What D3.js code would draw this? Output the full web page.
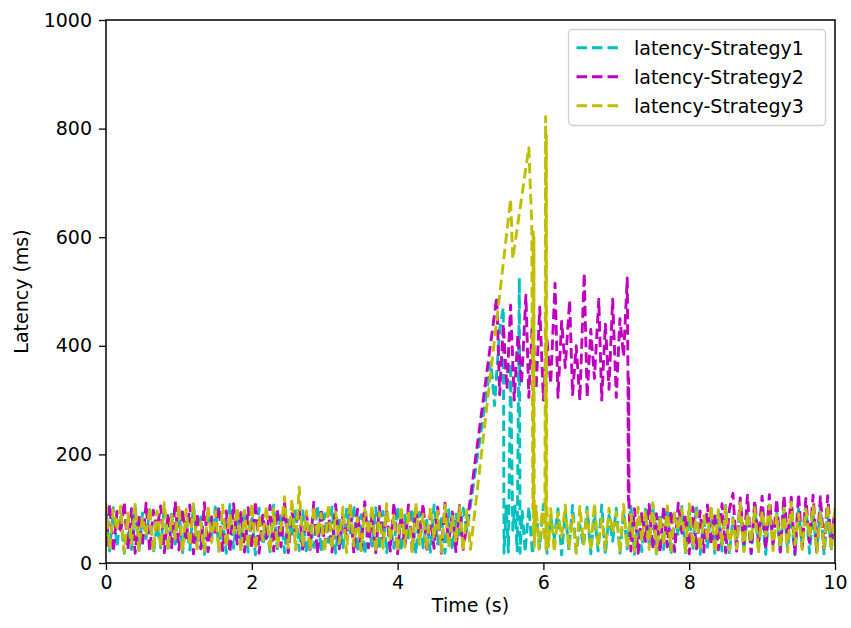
<!DOCTYPE html>
<html>
<head>
<meta charset="utf-8">
<script src="https://cdn.jsdelivr.net/npm/d3@7"></script>
<style>
	body { margin: 0; background: #fff; }
	text { font-family: "DejaVu Sans", sans-serif; }
</style>
</head>
<body>
<script>

// sample times (s), shared by the steady parts of every run
var baseTimes = [
	0,0.05,0.1,0.15,0.2,0.25,0.3,0.35,0.4,0.45,0.5,0.55,0.6,0.65,0.7,0.75,0.8,0.85,0.9,0.95,
	1,1.05,1.1,1.15,1.2,1.25,1.3,1.35,1.4,1.45,1.5,1.55,1.6,1.65,1.7,1.75,1.8,1.85,1.9,1.95,
	2,2.05,2.1,2.15,2.2,2.25,2.3,2.35,2.4,2.45,2.5,2.55,2.6,2.65,2.7,2.75,2.8,2.85,2.9,2.95,
	3,3.05,3.1,3.15,3.2,3.25,3.3,3.35,3.4,3.45,3.5,3.55,3.6,3.65,3.7,3.75,3.8,3.85,3.9,3.95,
	4,4.05,4.1,4.15,4.2,4.25,4.3,4.35,4.4,4.45,4.5,4.55,4.6,4.65,4.7,4.75,4.8,4.85,4.9,4.95,
	5,5.05,5.1,5.15,5.2,5.25,5.3,5.35,5.4,5.45,5.5,5.55,5.6,5.65,5.7,5.75,5.8,5.85,5.9,5.95,
	6,6.05,6.1,6.15,6.2,6.25,6.3,6.35,6.4,6.45,6.5,6.55,6.6,6.65,6.7,6.75,6.8,6.85,6.9,6.95,
	7,7.05,7.1,7.15,7.2,7.25,7.3,7.35,7.4,7.45,7.5,7.55,7.6,7.65,7.7,7.75,7.8,7.85,7.9,7.95,
	8,8.05,8.1,8.15,8.2,8.25,8.3,8.35,8.4,8.45,8.5,8.55,8.6,8.65,8.7,8.75,8.8,8.85,8.9,8.95,
	9,9.05,9.1,9.15,9.2,9.25,9.3,9.35,9.4,9.45,9.5,9.55,9.6,9.65,9.7,9.75,9.8,9.85,9.9,9.95,
	10
];

// Strategy1 latency (ms)
var s1Before = [
	95,22,102,30,88,18,60,25,105,20,92,45,98,17,70,28,104,21,90,35,
	100,19,75,24,106,30,85,16,97,50,103,22,80,18,108,27,93,40,99,20,
	87,15,101,33,65,21,107,26,94,19,82,48,100,23,96,17,72,29,105,20,
	91,38,103,18,84,25,99,55,106,21,89,16,76,31,102,24,95,19,68,27,
	104,22,88,42,100,17,93,28,79,20,107,35,86,18,98,24,90,52,101,60
];
var s1SpikeTime    = [5.28,5.33,5.40,5.45,5.46,5.49,5.52,5.55,5.58,5.61,5.64,5.67,5.68,5.71];
var s1SpikeLatency = [370, 290, 430, 470, 18,  105, 20,  368, 60,  105, 22,  525, 18,  95];
var s1AfterStart = 115;
var s1After = [
	20,104,16,90,28,108,18,85,45,100,15,96,24,106,19,70,30,103,17,92,
	22,107,15,88,40,101,18,95,26,105,16,80,21,99,35,108,17,91,25,102,
	15,86,50,104,19,97,23,107,16,78,29,100,18,94,22,106,15,83,38,103,
	20,96,17,109,27,89,16,101,44,95,19,105,24,87,15,99,31,107,18,92,
	21,104,17,90,26,100
];

// Strategy2 latency (ms)
var s2Before = [
	30,108,20,95,55,112,25,100,18,88,32,110,22,97,62,105,19,92,28,113,
	24,99,40,107,17,90,26,111,21,85,50,104,23,96,19,109,35,93,20,102,
	27,114,18,88,45,106,22,98,30,110,19,94,58,103,21,91,25,112,17,100,
	33,96,20,108,26,87,48,105,18,99,23,113,28,90,19,104,42,95,22,111,
	17,92,30,107,24,98,52,109,20,89,27,103,18,110,36,94,21,106,25,70
];
var s2SpikeTime = [
	5.36,5.40,5.45,5.50,5.55,5.60,5.65,5.70,5.76,5.80,5.85,5.90,5.95,6.00,6.05,6.10,
	6.16,6.20,6.25,6.30,6.36,6.40,6.45,6.50,6.56,6.60,6.65,6.70,6.76,6.80,6.85,6.90,
	6.95,7.00,7.05,7.10,7.15,7.16,7.165,7.17,7.175
];
var s2SpikeLatency = [
	490,310,440,320,475,300,420,330,493,305,450,320,471,300,410,330,
	515,305,445,360,484,310,400,300,534,305,430,340,486,300,440,320,
	486,305,450,380,525,350,115,340,105
];
var s2AfterStart = 144;
var s2After = [
	22,100,18,94,40,108,25,91,19,105,30,97,21,110,55,89,17,103,26,96,
	20,107,33,92,24,109,19,98,
	128,22,120,35,125,18,115,40,123,24,126,30,118,20,124,45,121,17,127,28,
	119,38,125,21,122,26,124,33,100
];

// Strategy3 latency (ms)
var s3Before = [
	110,25,98,60,105,20,92,35,108,24,85,50,103,21,96,28,111,23,88,45,
	106,20,99,32,109,26,75,22,104,38,95,19,107,29,90,55,102,21,97,27,
	110,24,86,42,105,20,100,30,65,122,28,118,24,140,30,96,22,104,48,91,
	20,108,26,94,36,103,19,110,31,84,23,99,52,106,21,93,27,109,40,88,
	22,105,29,97,18,111,34,90,24,102,45,95,20,107,28,86,38,104,22,98,25
];
var s3SpikeTime    = [5.55,5.58,5.80,5.84,5.855,5.86,5.865,5.87,5.875,5.90,5.94,5.98,6.02,6.03,6.035,6.04,6.045,6.07];
var s3SpikeLatency = [670, 560, 765, 625, 100,  610, 50,   600, 30,   105, 25,  95,  40,  822, 25,   790, 110,  30];
var s3AfterStart = 122;
var s3After = [
	100,20,93,48,107,26,88,18,104,35,96,22,110,30,82,24,101,55,94,19,
	108,27,90,21,103,40,97,25,111,18,86,33,105,23,92,60,100,20,109,29,
	95,22,87,45,106,19,98,31,104,24,80,26,110,21,93,38,102,18,96,50,
	107,23,89,28,101,20,112,34,91,25,99,47,105,19,94,27,108,22,100
];

var seriesNames = ["latency-Strategy1", "latency-Strategy2", "latency-Strategy3"];
var seriesColors = ["#00bfbf", "#bf00bf", "#bfbf00"];
var xTicks = [0, 2, 4, 6, 8, 10];
var yTicks = [0, 200, 400, 600, 800, 1000];

function buildSeries(before, spikeTime, spikeLatency, afterStart, after) {
	var pts = [];
	before.forEach(function(v, i) { pts.push([baseTimes[i], v]); });
	spikeTime.forEach(function(t, i) { pts.push([t, spikeLatency[i]]); });
	after.forEach(function(v, i) { pts.push([baseTimes[afterStart + i], v]); });
	return pts;
}

var dataset = [
	buildSeries(s1Before, s1SpikeTime, s1SpikeLatency, s1AfterStart, s1After),
	buildSeries(s2Before, s2SpikeTime, s2SpikeLatency, s2AfterStart, s2After),
	buildSeries(s3Before, s3SpikeTime, s3SpikeLatency, s3AfterStart, s3After)
];

makeChart();

function makeChart() {

	var left = 106, right = 835, top = 20, bottom = 563;
	var fontSize = "19px";
	var dash = "10.5,5";

	var svg = d3.select("body")
		.append("svg")
		.attr("width", 851)
		.attr("height", 628);

	var xScale = d3.scaleLinear().domain([0, 10]).range([left, right]);
	var yScale = d3.scaleLinear().domain([0, 1000]).range([bottom, top]);

	svg.append("clipPath")
		.attr("id", "plotClip")
		.append("rect")
		.attr("x", left).attr("y", top)
		.attr("width", right - left).attr("height", bottom - top);

	var line = d3.line()
		.x(function(d) { return xScale(d[0]); })
		.y(function(d) { return yScale(d[1]); });

	// draw the three runs, Strategy3 ends up on top
	svg.append("g")
		.attr("clip-path", "url(#plotClip)")
		.selectAll("path")
		.data(dataset)
		.enter()
		.append("path")
		.attr("d", line)
		.attr("fill", "none")
		.attr("stroke", function(d, i) { return seriesColors[i]; })
		.attr("stroke-width", 2.9)
		.attr("stroke-dasharray", dash)
		.attr("stroke-linejoin", "round");

	// axes
	var xAxis = svg.append("g")
		.attr("transform", "translate(0," + bottom + ")")
		.call(d3.axisBottom(xScale).tickValues(xTicks).tickFormat(d3.format("d")).tickSize(7).tickPadding(6));

	var yAxis = svg.append("g")
		.attr("transform", "translate(" + left + ",0)")
		.call(d3.axisLeft(yScale).tickValues(yTicks).tickFormat(d3.format("d")).tickSize(7).tickPadding(7));

	[xAxis, yAxis].forEach(function(ax) {
		ax.select(".domain").remove();
		ax.selectAll("line").attr("stroke", "#000").attr("stroke-width", 1.3);
		ax.selectAll("text")
		  .style("font-family", "'DejaVu Sans', sans-serif")
		  .style("font-size", fontSize)
		  .attr("fill", "#000");
	});

	// frame
	svg.append("rect")
		.attr("x", left).attr("y", top)
		.attr("width", right - left).attr("height", bottom - top)
		.attr("fill", "none")
		.attr("stroke", "#000")
		.attr("stroke-width", 1.5);

	// axis labels
	svg.append("text")
		.attr("x", (left + right) / 2)
		.attr("y", 612)
		.style("text-anchor", "middle")
		.style("font-size", fontSize)
		.text("Time (s)");

	svg.append("text")
		.attr("transform", "translate(28," + ((top + bottom) / 2) + ") rotate(-90)")
		.style("text-anchor", "middle")
		.style("font-size", fontSize)
		.text("Latency (ms)");

	// legend
	var legendBox = svg.append("g");

	legendBox.append("rect")
		.attr("x", 568.5).attr("y", 29.5)
		.attr("width", 257).attr("height", 96)
		.attr("rx", 4)
		.attr("fill", "#fff")
		.attr("fill-opacity", 0.8)
		.attr("stroke", "#d0d0d0")
		.attr("stroke-width", 1.3);

	var legend = legendBox.selectAll(".legend")
		.data(seriesNames)
		.enter().append("g")
		.attr("class", "legend")
		.attr("transform", function(d, i) { return "translate(0," + (47.7 + i * 29) + ")"; });

	legend.append("line")
		.attr("x1", 576.5).attr("x2", 618.5)
		.attr("y1", 0).attr("y2", 0)
		.attr("stroke", function(d, i) { return seriesColors[i]; })
		.attr("stroke-width", 2.9)
		.attr("stroke-dasharray", dash);

	legend.append("text")
		.attr("x", 634)
		.attr("y", 7)
		.style("font-size", fontSize)
		.text(function(d) { return d; });
}

</script>
</body>
</html>
